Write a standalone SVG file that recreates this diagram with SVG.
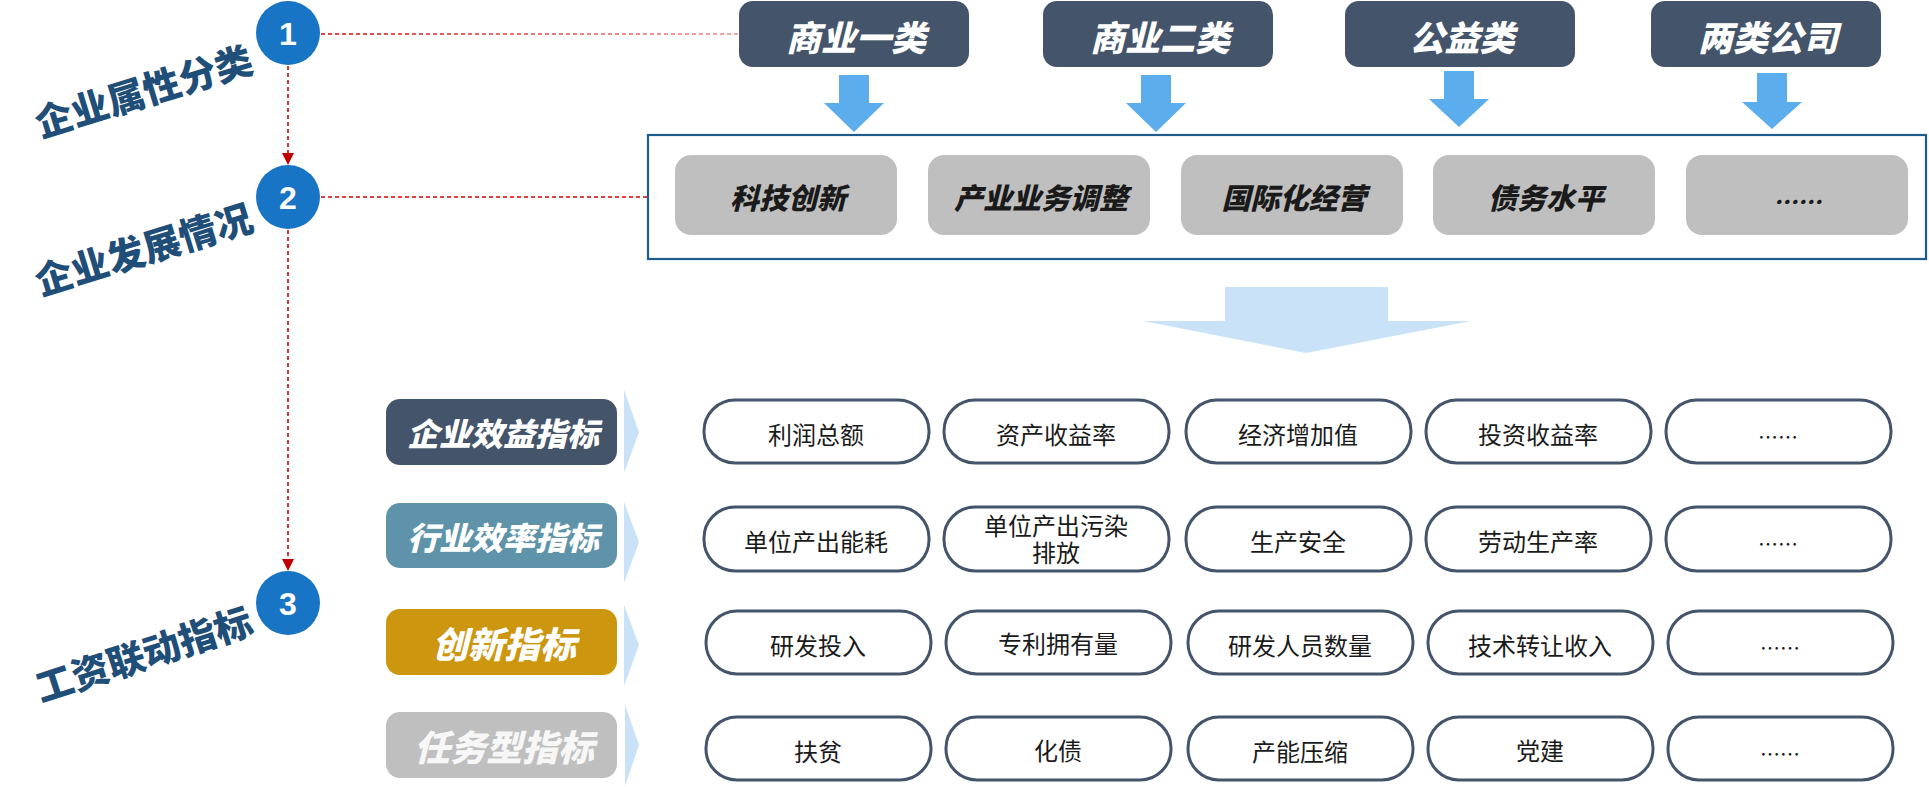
<svg xmlns="http://www.w3.org/2000/svg" width="1929" height="787" viewBox="0 0 1929 787">
<defs>
<style>
.num{font-family:"Liberation Sans",Arial,sans-serif;font-weight:700;font-size:32px;fill:#fff;text-anchor:middle;dominant-baseline:central}
.side{font-family:"Noto Sans CJK SC",sans-serif;font-weight:900;font-size:37.5px;fill:#1F4E79;text-anchor:middle;dominant-baseline:central}
.top{fill:#44546A}
.topt{font-family:"Noto Sans CJK SC",sans-serif;font-weight:900;font-style:italic;font-size:35px;fill:#fff;text-anchor:middle;dominant-baseline:central}
.gbox{fill:#BFBFBF}
.gt{font-family:"Noto Sans CJK SC",sans-serif;font-weight:900;font-style:italic;font-size:29px;fill:#1A1A1A;text-anchor:middle;dominant-baseline:central}
.cat{font-family:"Noto Sans CJK SC",sans-serif;font-weight:900;font-style:italic;fill:#fff;text-anchor:middle;dominant-baseline:central}
.pill{fill:#fff;stroke:#44546A;stroke-width:3}
.pt{font-family:"Noto Sans CJK SC",sans-serif;font-size:24px;fill:#1A1A1A;text-anchor:middle;dominant-baseline:central}
.circ{fill:#1874C4}
.dash{fill:none;stroke:#D90000;stroke-width:1.6;stroke-dasharray:4 3}
.barrow{fill:#5BADEE}
.chev{fill:#C9E2F7}
</style>
<linearGradient id="fade" gradientUnits="userSpaceOnUse" x1="320" y1="0" x2="739" y2="0">
<stop offset="0" stop-color="#D90000"/>
<stop offset="1" stop-color="#EE8C8C"/>
</linearGradient>
</defs>

<g id="connectors">
<line class="dash" x1="321" y1="34" x2="739" y2="34" style="stroke:url(#fade)"/>
<line class="dash" x1="321" y1="197" x2="648" y2="197"/>
<line class="dash" x1="288" y1="66" x2="288" y2="153"/>
<path d="M282,153 L294,153 L288,165 Z" fill="#C00000"/>
<line class="dash" x1="288" y1="230" x2="288" y2="559"/>
<path d="M282,559 L294,559 L288,571 Z" fill="#C00000"/>
<g id="blue-arrows">
<path class="barrow" d="M839,75 H869 V103 H884 L854,132 L824,103 H839 Z"/>
<path class="barrow" d="M1141,75 H1171 V103 H1186 L1156,132 L1126,103 H1141 Z"/>
<path class="barrow" d="M1444,71 H1474 V99 H1489 L1459,127 L1429,99 H1444 Z"/>
<path class="barrow" d="M1757,73 H1787 V102 H1802 L1772,129 L1742,102 H1757 Z"/>
</g>
<path id="big-arrow" d="M1225,287 H1388 V321 H1471 L1306,353 L1143,321 H1225 Z" fill="#C9E2F7"/>
<g id="chevrons">
<path class="chev" d="M624,390 L639,432 L624,473 Z"/>
<path class="chev" d="M624,502 L639,542 L624,583 Z"/>
<path class="chev" d="M624,605 L639,645 L624,686 Z"/>
<path class="chev" d="M625,705 L639,745 L625,786 Z"/>
</g>
</g>

<g id="step1">
<circle class="circ" cx="288" cy="33" r="32"/>
<text class="num" x="288" y="34">1</text>
<text class="side" x="143" y="89" transform="rotate(-17 143 89)">企业属性分类</text>
</g>
<g id="step2">
<circle class="circ" cx="288" cy="197" r="32"/>
<text class="num" x="288" y="198">2</text>
<text class="side" x="143" y="247" transform="rotate(-17 143 247)">企业发展情况</text>
</g>
<g id="step3">
<circle class="circ" cx="288" cy="603" r="32"/>
<text class="num" x="288" y="604">3</text>
<text class="side" x="143" y="652" transform="rotate(-18 143 652)">工资联动指标</text>
</g>

<g id="type-1"><rect class="top" x="739" y="1" width="230" height="66" rx="14"/><text class="topt" x="856" y="35">商业一类</text></g>
<g id="type-2"><rect class="top" x="1043" y="1" width="230" height="66" rx="14"/><text class="topt" x="1160" y="35">商业二类</text></g>
<g id="type-3"><rect class="top" x="1345" y="1" width="230" height="66" rx="14"/><text class="topt" x="1462" y="35">公益类</text></g>
<g id="type-4"><rect class="top" x="1651" y="1" width="230" height="66" rx="14"/><text class="topt" x="1768" y="35">两类公司</text></g>

<g id="development">
<rect x="648" y="135" width="1278" height="124" fill="#fff" stroke="#1F5C8E" stroke-width="2.2"/>
<g id="dev-1"><rect class="gbox" x="675" y="155" width="222" height="80" rx="16"/><text class="gt" x="788" y="196">科技创新</text></g>
<g id="dev-2"><rect class="gbox" x="928" y="155" width="222" height="80" rx="16"/><text class="gt" x="1041" y="196">产业业务调整</text></g>
<g id="dev-3"><rect class="gbox" x="1181" y="155" width="222" height="80" rx="16"/><text class="gt" x="1294" y="196">国际化经营</text></g>
<g id="dev-4"><rect class="gbox" x="1433" y="155" width="222" height="80" rx="16"/><text class="gt" x="1546" y="196">债务水平</text></g>
<g id="dev-5"><rect class="gbox" x="1686" y="155" width="222" height="80" rx="16"/><text class="gt" x="1797" y="200" style="font-size:24px">……</text></g>
</g>

<g id="cat-1"><rect x="386" y="399" width="231" height="66" rx="14" fill="#44546A"/><text class="cat" x="503" y="432" style="font-size:32px">企业效益指标</text></g>
<g id="cat-2"><rect x="386" y="503" width="231" height="65" rx="14" fill="#5E93A9"/><text class="cat" x="503" y="536" style="font-size:32px">行业效率指标</text></g>
<g id="cat-3"><rect x="386" y="609" width="231" height="66" rx="14" fill="#CC960F"/><text class="cat" x="504" y="642" style="font-size:36px">创新指标</text></g>
<g id="cat-4"><rect x="386" y="712" width="231" height="66" rx="14" fill="#BFBFBF"/><text class="cat" x="504" y="745" style="font-size:36px;fill:#F7F7F7">任务型指标</text></g>

<g id="row1">
<g id="r1c1"><rect class="pill" x="704" y="400" width="225" height="63" rx="31"/><text class="pt" x="816" y="433">利润总额</text></g>
<g id="r1c2"><rect class="pill" x="944" y="400" width="225" height="63" rx="31"/><text class="pt" x="1056" y="433">资产收益率</text></g>
<g id="r1c3"><rect class="pill" x="1186" y="400" width="225" height="63" rx="31"/><text class="pt" x="1298" y="433">经济增加值</text></g>
<g id="r1c4"><rect class="pill" x="1426" y="400" width="225" height="63" rx="31"/><text class="pt" x="1538" y="433">投资收益率</text></g>
<g id="r1c5"><rect class="pill" x="1666" y="400" width="225" height="63" rx="31"/><text class="pt" x="1778" y="436" style="font-size:20px">……</text></g>
</g>
<g id="row2">
<g id="r2c1"><rect class="pill" x="704" y="507" width="225" height="64" rx="31"/><text class="pt" x="816" y="540">单位产出能耗</text></g>
<g id="r2c2"><rect class="pill" x="944" y="507" width="225" height="64" rx="31"/><text class="pt" x="1056" y="524">单位产出污染<tspan x="1056" dy="27">排放</tspan></text></g>
<g id="r2c3"><rect class="pill" x="1186" y="507" width="225" height="64" rx="31"/><text class="pt" x="1298" y="540">生产安全</text></g>
<g id="r2c4"><rect class="pill" x="1426" y="507" width="225" height="64" rx="31"/><text class="pt" x="1538" y="540">劳动生产率</text></g>
<g id="r2c5"><rect class="pill" x="1666" y="507" width="225" height="64" rx="31"/><text class="pt" x="1778" y="543" style="font-size:20px">……</text></g>
</g>
<g id="row3">
<g id="r3c1"><rect class="pill" x="706" y="611" width="225" height="63" rx="31"/><text class="pt" x="818" y="644">研发投入</text></g>
<g id="r3c2"><rect class="pill" x="946" y="611" width="225" height="63" rx="31"/><text class="pt" x="1058" y="642">专利拥有量</text></g>
<g id="r3c3"><rect class="pill" x="1188" y="611" width="225" height="63" rx="31"/><text class="pt" x="1300" y="644">研发人员数量</text></g>
<g id="r3c4"><rect class="pill" x="1428" y="611" width="225" height="63" rx="31"/><text class="pt" x="1540" y="644">技术转让收入</text></g>
<g id="r3c5"><rect class="pill" x="1668" y="611" width="225" height="63" rx="31"/><text class="pt" x="1780" y="647" style="font-size:20px">……</text></g>
</g>
<g id="row4">
<g id="r4c1"><rect class="pill" x="706" y="717" width="225" height="63" rx="31"/><text class="pt" x="818" y="750">扶贫</text></g>
<g id="r4c2"><rect class="pill" x="946" y="717" width="225" height="63" rx="31"/><text class="pt" x="1058" y="749">化债</text></g>
<g id="r4c3"><rect class="pill" x="1188" y="717" width="225" height="63" rx="31"/><text class="pt" x="1300" y="750">产能压缩</text></g>
<g id="r4c4"><rect class="pill" x="1428" y="717" width="225" height="63" rx="31"/><text class="pt" x="1540" y="749">党建</text></g>
<g id="r4c5"><rect class="pill" x="1668" y="717" width="225" height="63" rx="31"/><text class="pt" x="1780" y="753" style="font-size:20px">……</text></g>
</g>
</svg>
